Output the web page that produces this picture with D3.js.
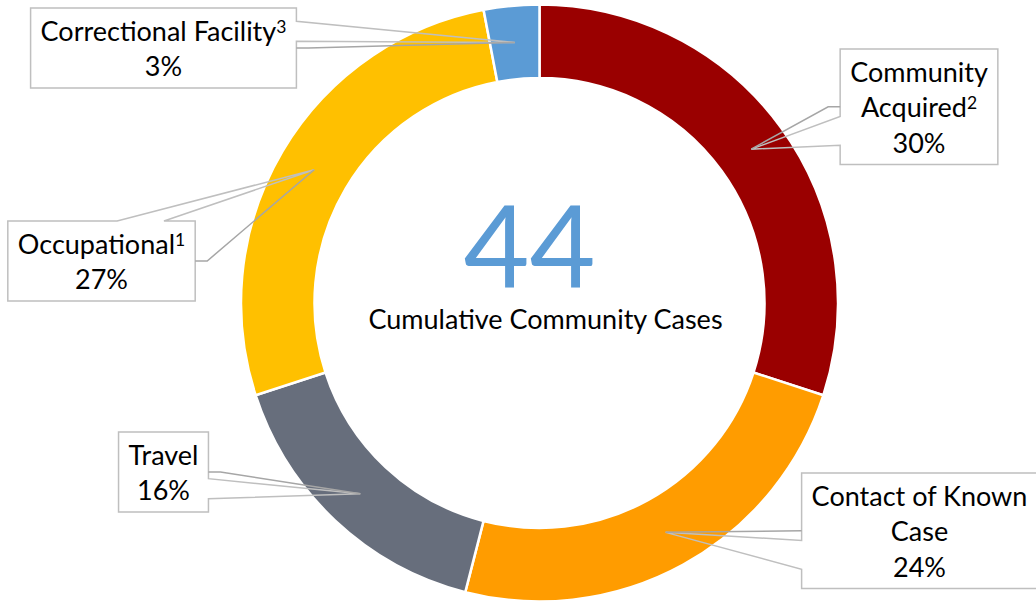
<!DOCTYPE html>
<html>
<head>
<meta charset="utf-8">
<script src="https://cdn.jsdelivr.net/npm/d3@7"></script>
<style>
  body { margin: 0; background: #fff; }
  text { font-family: Lato, "Open Sans", sans-serif; }
</style>
</head>
<body>
<div id="chart"></div>
<script>
// data
var categories = ["Community Acquired", "Contact of Known Case", "Travel", "Occupational", "Correctional Facility"];
var shares = [30, 24, 16, 27, 3];
var footnotes = ["2", "", "", "1", "3"];
var labelLines = [["Community", "Acquired"], ["Contact of Known", "Case"], ["Travel"], ["Occupational"], ["Correctional Facility"]];
var colors = ["#9a0000", "#ff9c00", "#676e7c", "#ffc000", "#5b9bd5"];
var totalCases = 44;
var centerCaption = "Cumulative Community Cases";

// callout box placement (center x, top y) in page pixels
var boxPlace = [[919, 49], [919.5, 473], [163.5, 432], [101.5, 221], [163.5, 8]];

var width = 1036, height = 603;
var cx = 539.5, cy = 303;
var rOuter = 298.5, rInner = 225;
var fontSize = 27, lineGap = 35.5;

var svg = d3.select("#chart").append("svg")
    .attr("width", width)
    .attr("height", height);

var data = categories.map(function(c, i) {
  return {name: c, value: shares[i], color: colors[i], note: footnotes[i], lines: labelLines[i], place: boxPlace[i]};
});

var pie = d3.pie().sort(null).value(function(d) { return d.value; });
var arc = d3.arc().innerRadius(rInner).outerRadius(rOuter);
var mid = d3.arc().innerRadius((226 + 297.5) / 2).outerRadius((226 + 297.5) / 2);

var g = svg.append("g").attr("transform", "translate(" + cx + "," + cy + ")");
var arcs = pie(data);

g.selectAll("path.slice")
  .data(arcs)
  .enter().append("path")
    .attr("class", "slice")
    .attr("d", arc)
    .attr("fill", function(d) { return d.data.color; })
    .attr("stroke", "#fff")
    .attr("stroke-width", 2.5);

// center number and caption
g.append("text")
  .attr("x", -10).attr("y", -15)
  .attr("text-anchor", "middle")
  .attr("fill", "#5b9bd5")
  .style("font-size", "114px")
  .text(totalCases);
g.append("text")
  .attr("x", 6).attr("y", 26)
  .attr("text-anchor", "middle")
  .attr("fill", "#000")
  .style("font-size", fontSize + "px")
  .text(centerCaption);

// callouts
var callouts = svg.append("g");
arcs.forEach(function(a) {
  var d = a.data;
  var c = mid.centroid(a);
  var tip = [c[0] + cx, c[1] + cy];
  var nLines = d.lines.length + 1;
  var boxH = 9 + lineGap * nLines;
  var top = d.place[1];

  var grp = callouts.append("g");
  var txt = grp.append("g");
  d.lines.forEach(function(line, i) {
    var t = txt.append("text")
      .attr("x", d.place[0])
      .attr("y", top + 32.5 + lineGap * i)
      .attr("text-anchor", "middle")
      .style("font-size", fontSize + "px")
      .attr("fill", "#000");
    t.append("tspan").text(line);
    if (i === d.lines.length - 1 && d.note) {
      t.append("tspan")
        .attr("dy", "-0.45em")
        .style("font-size", (fontSize * 0.65) + "px")
        .text(d.note);
    }
  });
  txt.append("text")
    .attr("x", d.place[0])
    .attr("y", top + 32.5 + lineGap * d.lines.length)
    .attr("text-anchor", "middle")
    .style("font-size", fontSize + "px")
    .attr("fill", "#000")
    .text(d.value + "%");

  var tw = 0;
  txt.selectAll("text").each(function() { tw = Math.max(tw, this.getComputedTextLength()); });
  var boxW = tw + 20;
  var x0 = d.place[0] - boxW / 2, x1 = d.place[0] + boxW / 2;
  var y0 = top, y1 = top + boxH;
  var bcx = d.place[0], bcy = (y0 + y1) / 2;

  // which side the wedge leaves from
  var side;
  if (tip[0] < x0) side = "left";
  else if (tip[1] < y0 - 20 && tip[0] - x1 < 200) side = "top";
  else if (tip[0] > x1) side = "right";
  else side = "bottom";

  var f = (side === "left" || side === "right") ? (tip[1] >= bcy ? [7 / 12, 10 / 12] : [2 / 12, 5 / 12])
                                               : (tip[0] >= bcx ? [7 / 12, 10 / 12] : [2 / 12, 5 / 12]);
  var p;
  if (side === "right") {
    var ya = y0 + boxH * f[0], yb = y0 + boxH * f[1];
    p = [[x0, y0], [x1, y0], [x1, ya], tip, [x1, yb], [x1, y1], [x0, y1]];
  } else if (side === "left") {
    var ya2 = y0 + boxH * f[0], yb2 = y0 + boxH * f[1];
    p = [[x0, y0], [x1, y0], [x1, y1], [x0, y1], [x0, yb2], tip, [x0, ya2]];
  } else {
    var xa = x0 + boxW * f[0], xb = x0 + boxW * f[1];
    p = [[x0, y0], [xa, y0], tip, [xb, y0], [x1, y0], [x1, y1], [x0, y1]];
  }

  grp.insert("rect", ":first-child")
    .attr("x", x0).attr("y", y0)
    .attr("width", boxW).attr("height", boxH)
    .attr("fill", "#fff");
  grp.insert("path", "g")
    .attr("d", d3.line()(p) + "Z")
    .attr("fill", "none")
    .attr("stroke", "#bfbfbf")
    .attr("stroke-width", 1.5)
    .attr("stroke-linejoin", "miter");

  // leader line from the side mid point
  var lx = tip[0] > bcx ? x1 : x0;
  var stub = tip[0] > bcx ? 12 : -12;
  var leader = Math.abs(tip[1] - bcy) < 3 ? [[lx, bcy], tip] : [[lx, bcy], [lx + stub, bcy], tip];
  grp.append("path")
    .attr("d", d3.line()(leader))
    .attr("fill", "none")
    .attr("stroke", "#a6a6a6")
    .attr("stroke-width", 1.5);
});
</script>
</body>
</html>
